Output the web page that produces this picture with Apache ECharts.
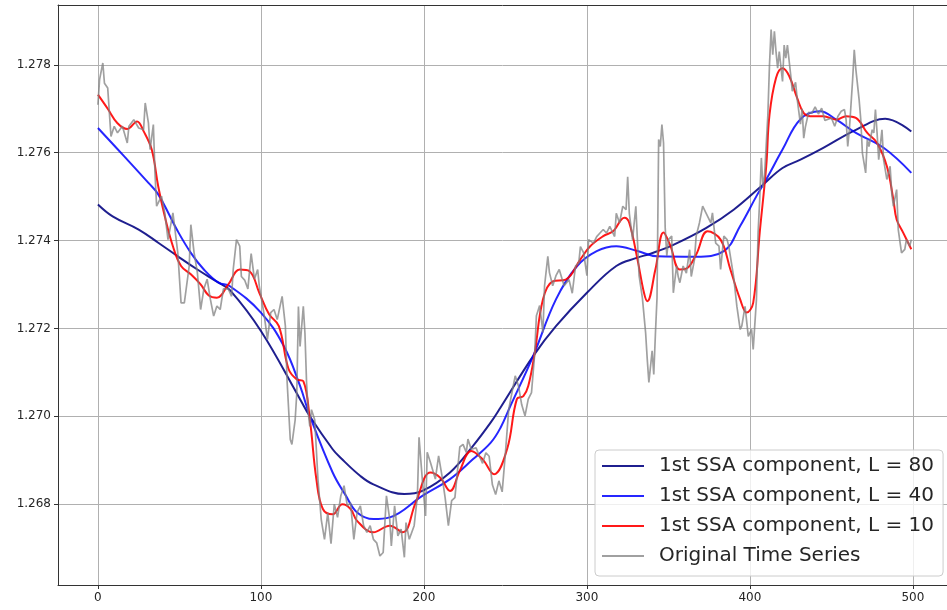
<!DOCTYPE html>
<html>
<head>
<meta charset="utf-8">
<script src="https://cdn.jsdelivr.net/npm/echarts@6/dist/echarts.min.js"></script>
<style>
  html, body { margin: 0; padding: 0; background: #fff; }
  #chart { width: 947px; height: 610px; }
</style>
</head>
<body>
<div id="chart"></div>
<script>
// series names (legend order)
var names = ['1st SSA component, L = 80', '1st SSA component, L = 40', '1st SSA component, L = 10', 'Original Time Series'];

// L = 80 component
var l80X = [0, 9, 25, 37, 49, 61, 74, 81, 100, 124, 130, 144, 149, 161, 169, 188, 199, 216, 230, 241, 247, 267, 281, 300, 318, 331, 339, 353, 373, 390, 408, 420, 431, 445, 465, 483, 499];
var l80Y = [1.27482, 1.27455, 1.27425, 1.27395, 1.27364, 1.27334, 1.27304, 1.27287, 1.27194, 1.27039, 1.27000, 1.26925, 1.26905, 1.26864, 1.26845, 1.26823, 1.26830, 1.26872, 1.26932, 1.26986, 1.27020, 1.27137, 1.27205, 1.27281, 1.27342, 1.27361, 1.27370, 1.27390, 1.27428, 1.27470, 1.27527, 1.27565, 1.27584, 1.27611, 1.27652, 1.27677, 1.27648];

// L = 40 component
var l40X = [0, 16, 31, 37, 49, 57, 65, 74, 81, 100, 114, 124, 130, 144, 152, 159, 169, 179, 199, 216, 230, 241, 247, 253, 267, 281, 294, 306, 318, 331, 343, 367, 384, 394, 404, 410, 420, 431, 443, 453, 465, 482, 499];
var l40Y = [1.27656, 1.27592, 1.27531, 1.27505, 1.27421, 1.27372, 1.27334, 1.27304, 1.27296, 1.27236, 1.27160, 1.27069, 1.27001, 1.26872, 1.26820, 1.26781, 1.26766, 1.26770, 1.26819, 1.26857, 1.26902, 1.26940, 1.26974, 1.27023, 1.27137, 1.27266, 1.27342, 1.27376, 1.27387, 1.27376, 1.27364, 1.27363, 1.27376, 1.27433, 1.27501, 1.27539, 1.27607, 1.27676, 1.27694, 1.27675, 1.27645, 1.27611, 1.27554];

// L = 10 component
var l10X = [0, 6, 12, 18, 24, 28, 33, 37, 41, 46, 51, 57, 63, 68, 73, 80, 87, 93, 99, 105, 111, 117, 122, 126, 130, 134, 138, 144, 150, 155, 159, 169, 179, 187, 195, 204, 210, 216, 222, 229, 236, 243, 251, 257, 261, 264, 268, 273, 279, 287, 296, 302, 310, 316, 323, 326, 331, 335, 337, 342, 347, 351, 357, 361, 367, 374, 382, 388, 394, 398, 402, 406, 410, 412, 416, 420, 424, 429, 433, 437, 445, 453, 459, 465, 472, 478, 484, 488, 490, 494, 499];
var l10Y = [1.27732, 1.27700, 1.27667, 1.27654, 1.27671, 1.27649, 1.27607, 1.27523, 1.27455, 1.27387, 1.27342, 1.27323, 1.27300, 1.27275, 1.27270, 1.27300, 1.27334, 1.27330, 1.27281, 1.27232, 1.27205, 1.27107, 1.27084, 1.27080, 1.26993, 1.26857, 1.26789, 1.26777, 1.26800, 1.26789, 1.26762, 1.26736, 1.26751, 1.26736, 1.26804, 1.26872, 1.26860, 1.26830, 1.26876, 1.26921, 1.26902, 1.26868, 1.26925, 1.27039, 1.27046, 1.27069, 1.27145, 1.27266, 1.27307, 1.27311, 1.27357, 1.27387, 1.27410, 1.27421, 1.27452, 1.27440, 1.27357, 1.27281, 1.27262, 1.27334, 1.27418, 1.27390, 1.27334, 1.27336, 1.27368, 1.27421, 1.27402, 1.27334, 1.27266, 1.27236, 1.27258, 1.27418, 1.27569, 1.27686, 1.27770, 1.27792, 1.27775, 1.27724, 1.27690, 1.27683, 1.27683, 1.27675, 1.27683, 1.27679, 1.27645, 1.27622, 1.27569, 1.27493, 1.27448, 1.27418, 1.27380];

// original series
var origX = [0, 1, 3, 4, 6, 8, 10, 12, 15, 18, 19, 22, 25, 28, 29, 31, 32, 34, 35, 36, 39, 41, 43, 46, 47, 49, 51, 53, 56, 57, 59, 61, 63, 65, 67, 69, 71, 73, 75, 77, 80, 82, 83, 85, 87, 88, 90, 92, 94, 96, 98, 99, 102, 104, 106, 108, 110, 113, 115, 116, 118, 119, 121, 122, 123, 124, 126, 127, 128, 129, 130, 131, 133, 135, 137, 139, 141, 143, 145, 147, 149, 151, 153, 155, 157, 159, 161, 163, 165, 167, 169, 171, 173, 175, 177, 179, 180, 182, 184, 186, 188, 189, 191, 194, 196, 197, 199, 201, 202, 204, 207, 209, 211, 213, 215, 217, 219, 222, 224, 226, 227, 229, 232, 234, 236, 238, 240, 242, 244, 246, 248, 250, 252, 254, 256, 258, 260, 262, 264, 266, 268, 269, 271, 273, 274, 276, 277, 279, 281, 283, 286, 289, 291, 293, 295, 296, 298, 300, 301, 304, 306, 308, 310, 312, 314, 317, 318, 320, 322, 324, 325, 326, 328, 330, 332, 334, 336, 337, 338, 339, 340, 341, 342, 343, 344, 345, 346, 347, 348, 349, 350, 352, 353, 355, 356, 357, 359, 361, 363, 364, 366, 367, 369, 371, 373, 376, 377, 379, 381, 382, 384, 386, 387, 390, 392, 394, 395, 397, 399, 401, 402, 404, 405, 406, 407, 408, 409, 411, 412, 413, 414, 415, 416, 417, 418, 420, 421, 422, 423, 425, 426, 428, 429, 431, 432, 433, 434, 436, 438, 440, 442, 444, 446, 448, 450, 452, 454, 456, 458, 459, 460, 461, 463, 464, 465, 467, 468, 469, 471, 472, 473, 475, 476, 477, 478, 479, 481, 482, 484, 486, 487, 488, 490, 491, 493, 495, 496, 498, 499];
var origY = [1.27709, 1.27766, 1.27804, 1.27758, 1.27747, 1.27637, 1.27660, 1.27645, 1.27660, 1.27622, 1.27660, 1.27675, 1.27656, 1.27652, 1.27713, 1.27667, 1.27607, 1.27664, 1.27554, 1.27478, 1.27501, 1.27463, 1.27402, 1.27463, 1.27433, 1.27372, 1.27258, 1.27258, 1.27342, 1.27436, 1.27372, 1.27327, 1.27243, 1.27290, 1.27312, 1.27266, 1.27228, 1.27251, 1.27243, 1.27290, 1.27290, 1.27273, 1.27334, 1.27402, 1.27387, 1.27318, 1.27310, 1.27290, 1.27370, 1.27312, 1.27334, 1.27296, 1.27230, 1.27175, 1.27236, 1.27243, 1.27220, 1.27273, 1.27205, 1.27083, 1.26947, 1.26936, 1.26992, 1.27053, 1.27250, 1.27159, 1.27250, 1.27189, 1.27076, 1.27008, 1.26977, 1.27015, 1.26992, 1.26856, 1.26765, 1.26720, 1.26780, 1.26710, 1.26800, 1.26770, 1.26819, 1.26842, 1.26796, 1.26803, 1.26720, 1.26781, 1.26796, 1.26751, 1.26736, 1.26751, 1.26720, 1.26712, 1.26682, 1.26690, 1.26819, 1.26766, 1.26705, 1.26796, 1.26728, 1.26743, 1.26679, 1.26758, 1.26720, 1.26751, 1.26819, 1.26952, 1.26857, 1.26773, 1.26918, 1.26895, 1.26857, 1.26910, 1.26866, 1.26815, 1.26751, 1.26808, 1.26815, 1.26930, 1.26936, 1.26918, 1.26948, 1.26925, 1.26928, 1.26909, 1.26893, 1.26917, 1.26909, 1.26844, 1.26822, 1.26853, 1.26828, 1.26917, 1.27015, 1.27054, 1.27092, 1.27069, 1.27026, 1.27001, 1.27039, 1.27054, 1.27145, 1.27229, 1.27252, 1.27191, 1.27297, 1.27364, 1.27327, 1.27297, 1.27320, 1.27334, 1.27297, 1.27311, 1.27280, 1.27342, 1.27349, 1.27386, 1.27372, 1.27320, 1.27402, 1.27394, 1.27409, 1.27417, 1.27425, 1.27417, 1.27432, 1.27409, 1.27462, 1.27440, 1.27478, 1.27470, 1.27545, 1.27462, 1.27402, 1.27478, 1.27320, 1.27270, 1.27190, 1.27130, 1.27077, 1.27077, 1.27149, 1.27095, 1.27186, 1.27270, 1.27630, 1.27614, 1.27664, 1.27622, 1.27430, 1.27365, 1.27402, 1.27410, 1.27281, 1.27342, 1.27318, 1.27304, 1.27342, 1.27326, 1.27379, 1.27318, 1.27357, 1.27410, 1.27440, 1.27478, 1.27463, 1.27440, 1.27463, 1.27394, 1.27387, 1.27334, 1.27410, 1.27402, 1.27387, 1.27318, 1.27250, 1.27198, 1.27205, 1.27250, 1.27182, 1.27198, 1.27152, 1.27266, 1.27417, 1.27493, 1.27588, 1.27520, 1.27550, 1.27686, 1.27800, 1.27880, 1.27823, 1.27876, 1.27830, 1.27792, 1.27830, 1.27762, 1.27845, 1.27815, 1.27845, 1.27777, 1.27740, 1.27760, 1.27722, 1.27665, 1.27700, 1.27633, 1.27658, 1.27692, 1.27690, 1.27704, 1.27688, 1.27701, 1.27673, 1.27676, 1.27679, 1.27660, 1.27683, 1.27694, 1.27698, 1.27675, 1.27614, 1.27652, 1.27766, 1.27834, 1.27789, 1.27720, 1.27675, 1.27599, 1.27554, 1.27630, 1.27614, 1.27652, 1.27645, 1.27698, 1.27645, 1.27584, 1.27652, 1.27584, 1.27539, 1.27569, 1.27508, 1.27478, 1.27516, 1.27425, 1.27372, 1.27380, 1.27402, 1.27387, 1.27402];

// axis ranges and tick labels
var xMin = -24.5, xMax = 520.9;
var yMin = 1.26616, yMax = 1.27936;
var xTicks = [0, 100, 200, 300, 400, 500];
var yTicks = [1.268, 1.270, 1.272, 1.274, 1.276, 1.278];

function pairs(xs, ys) {
  return xs.map(function (x, i) { return [x, ys[i]]; });
}

var chart = echarts.init(document.getElementById('chart'), null, { renderer: 'canvas' });

var spine = { color: '#333333', width: 1 };
var gridLine = { show: true, lineStyle: { color: '#b0b0b0', width: 1 } };

var option = {
  animation: false,
  backgroundColor: '#ffffff',
  textStyle: { fontFamily: 'DejaVu Sans' },
  grid: { left: 58, top: 5, right: 0, bottom: 25 },
  xAxis: [
    {
      type: 'value', min: xMin, max: xMax, splitNumber: 5, position: 'bottom',
      axisLine: { onZero: false, lineStyle: spine },
      axisTick: { show: true, length: 4, lineStyle: spine, customValues: xTicks },
      axisLabel: {
        color: '#262626', fontSize: 12, margin: 7, customValues: xTicks,
        formatter: function (v) { return xTicks.indexOf(v) >= 0 ? String(v) : ''; }
      },
      splitLine: gridLine
    },
    {
      // top spine only
      type: 'value', min: xMin, max: xMax, position: 'top',
      axisLine: { onZero: false, lineStyle: spine },
      axisTick: { show: false }, axisLabel: { show: false }, splitLine: { show: false }
    }
  ],
  yAxis: {
    type: 'value', min: yMin, max: yMax, splitNumber: 6,
    axisLine: { show: true, onZero: false, lineStyle: spine },
    axisTick: { show: true, length: 4, lineStyle: spine, customValues: yTicks },
    axisLabel: {
      color: '#262626', fontSize: 12, margin: 7, customValues: yTicks,
      formatter: function (v) {
        for (var i = 0; i < yTicks.length; i++) {
          if (Math.abs(v - yTicks[i]) < 1e-7) return yTicks[i].toFixed(3);
        }
        return '';
      }
    },
    splitLine: gridLine
  },
  legend: {
    data: names,
    orient: 'vertical',
    left: 595, top: 450,
    padding: [6, 9, 10, 7],
    itemWidth: 42, itemHeight: 2, itemGap: 10,
    icon: 'rect',
    backgroundColor: 'rgba(255,255,255,0.8)',
    borderColor: '#cccccc', borderWidth: 1, borderRadius: 4,
    textStyle: { fontSize: 20, lineHeight: 20, color: '#262626', fontFamily: 'DejaVu Sans', padding: [0, 0, 0, 10] }
  },
  series: [
    {
      name: names[0], type: 'line', data: pairs(l80X, l80Y), smooth: 0.4,
      showSymbol: false, color: 'rgba(0,0,128,0.88)', lineStyle: { width: 2 }, z: 2
    },
    {
      name: names[1], type: 'line', data: pairs(l40X, l40Y), smooth: 0.4,
      showSymbol: false, color: 'rgba(0,0,255,0.85)', lineStyle: { width: 2 }, z: 3
    },
    {
      name: names[2], type: 'line', data: pairs(l10X, l10Y), smooth: 0.4,
      showSymbol: false, color: 'rgba(255,0,0,0.9)', lineStyle: { width: 2 }, z: 4
    },
    {
      name: names[3], type: 'line', data: pairs(origX, origY),
      showSymbol: false, color: 'rgba(128,128,128,0.75)', lineStyle: { width: 1.7 }, z: 5
    }
  ]
};

chart.setOption(option);
</script>
</body>
</html>
